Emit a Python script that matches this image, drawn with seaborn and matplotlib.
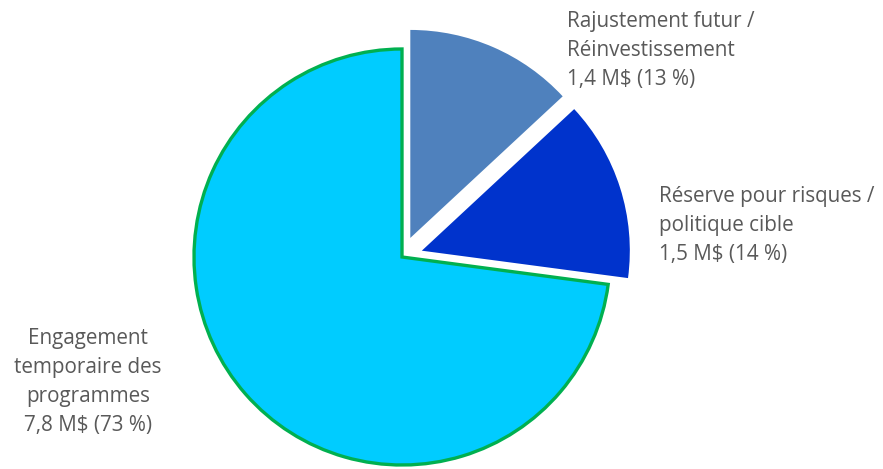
import numpy as np
import seaborn as sns
import matplotlib.pyplot as plt

# Data
categories = ["Rajustement futur /\nRéinvestissement",
              "Réserve pour risques /\npolitique cible",
              "Engagement\ntemporaire des\nprogrammes"]
values = [1.4, 1.5, 7.8]
percents = [13, 14, 73]
colors = ["#4F81BD", "#0033CC", "#00CCFF"]
explode = [0.1, 0.1, 0.0]

sns.set_theme(style="white")
plt.rcParams['font.family'] = ['Open Sans', 'DejaVu Sans']

W, H = 883, 469
R = 208
fig = plt.figure(figsize=(W / 100, H / 100), dpi=100)
ax = fig.add_axes([0, 0, 1, 1])

# explode is taken in data units by pie(), so scale it by the radius
wedges, _ = ax.pie(values, colors=colors, explode=[e * R for e in explode],
                   startangle=90, counterclock=False,
                   center=(402, H - 257), radius=R)
wedges[2].set_edgecolor("#00B050")
wedges[2].set_linewidth(2.4)
for w in wedges[:2]:
    w.set_linewidth(0)

# pie() resets the limits, so set them afterwards
ax.set_xlim(0, W)
ax.set_ylim(0, H)
ax.set_aspect('equal')
ax.axis('off')

labels = [f"{c}\n{str(v).replace('.', ',')} M$ ({p} %)"
          for c, v, p in zip(categories, values, percents)]
txt = dict(color="#595959", fontsize=14.9, linespacing=1.5)
ax.text(567, H - 11, labels[0], ha='left', va='top', **txt)
ax.text(659, H - 186, labels[1], ha='left', va='top', **txt)
ax.text(88, H - 328, labels[2], ha='center', va='top', multialignment='center', **txt)

fig.savefig("out.png", dpi=100)
